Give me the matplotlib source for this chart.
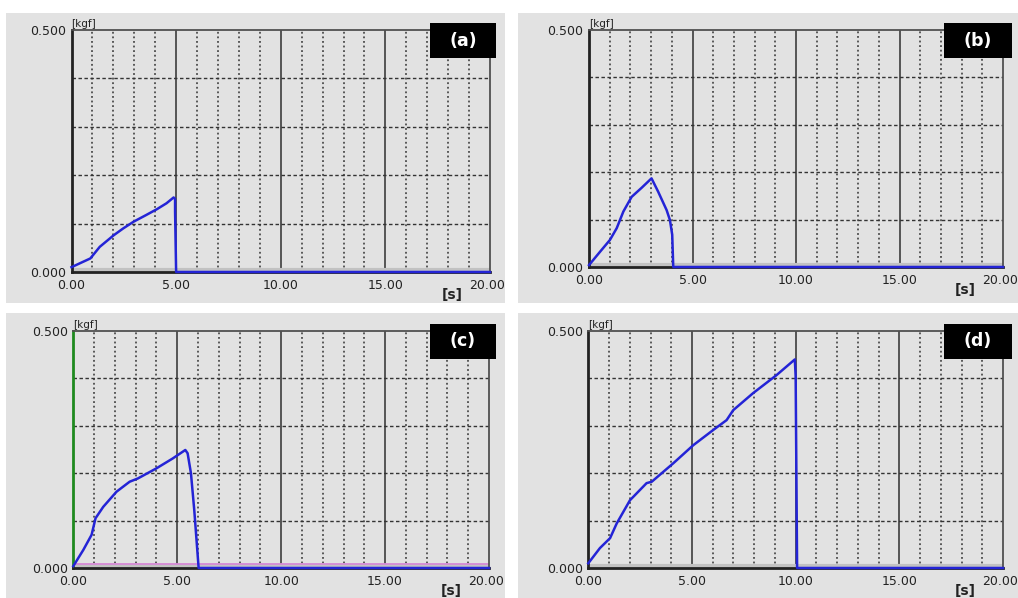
import matplotlib
matplotlib.use("Agg")
import matplotlib.pyplot as plt
from matplotlib.patches import Rectangle
from matplotlib.transforms import ScaledTranslation

W, H = 1018, 598

# ---------------- data ----------------
t_a = [0.0, 0.9, 1.35, 2.02, 2.47, 2.97, 3.58, 4.09, 4.54, 4.88, 4.95, 4.95, 5.0, 20.0]
f_a = [0.010, 0.028, 0.052, 0.076, 0.090, 0.104, 0.118, 0.130, 0.142, 0.154, 0.151, 0.125, 0.0, 0.0]

t_b = [0.0, 0.53, 1.01, 1.34, 1.66, 2.06, 2.54, 3.02, 3.34, 3.75, 3.91, 4.02, 4.07, 20.0]
f_b = [0.004, 0.032, 0.057, 0.082, 0.117, 0.148, 0.167, 0.187, 0.159, 0.120, 0.099, 0.068, 0.0, 0.0]

t_c = [0.0, 0.48, 0.88, 1.07, 1.44, 2.08, 2.71, 3.11, 3.99, 4.78, 5.39, 5.50, 5.66, 5.82, 6.03, 20.0]
f_c = [0.004, 0.038, 0.070, 0.105, 0.129, 0.161, 0.182, 0.189, 0.210, 0.231, 0.249, 0.242, 0.200, 0.122, 0.0, 0.0]

t_d = [0.0, 0.56, 1.05, 1.37, 2.01, 2.81, 3.06, 4.10, 5.06, 6.02, 6.67, 6.99, 7.95, 9.08, 9.96, 10.0, 10.07, 20.0]
f_d = [0.010, 0.042, 0.063, 0.094, 0.143, 0.179, 0.182, 0.221, 0.259, 0.291, 0.312, 0.333, 0.369, 0.407, 0.440, 0.405, 0.0, 0.0]

x_ticks = [0, 5, 10, 15, 20]
x_labels = ["0.00", "5.00", "10.00", "15.00", "20.00"]
y_ticks = [0.0, 0.5]
y_labels = ["0.000", "0.500"]
minor_x = [i for i in range(1, 20) if i % 5 != 0]
major_x = [5, 10, 15]
grid_y = [0.1, 0.2, 0.3, 0.4]
panel_names = ["(a)", "(b)", "(c)", "(d)"]

# ---------------- layout (pixels) ----------------
BG = "#e2e2e2"
BLUE = "#2424d6"

fig = plt.figure(figsize=(W / 100, H / 100), dpi=100)
fig.patch.set_facecolor("white")


def fr(l, t, r, b):
    return [l / W, 1 - b / H, (r - l) / W, (b - t) / H]


panels_bg = [(6, 13, 505, 303), (518, 13, 1018, 303), (6, 313, 505, 598), (518, 313, 1018, 598)]
axes_px = [(71.5, 30, 490, 272), (589, 30, 1003, 267), (73.3, 331, 489, 568), (588.3, 331, 1003, 568)]
boxes_px = [(430, 23, 496, 58), (944, 23, 1012, 58), (430, 324, 496, 359), (944, 324, 1012, 359)]
series = [(t_a, f_a), (t_b, f_b), (t_c, f_c), (t_d, f_d)]

for (l, t, r, b) in panels_bg:
    fig.add_artist(Rectangle((l / W, 1 - b / H), (r - l) / W, (b - t) / H,
                             transform=fig.transFigure, facecolor=BG, edgecolor="none", zorder=-5))

for i, ((l, t, r, b), (tt, ff)) in enumerate(zip(axes_px, series)):
    ax = fig.add_axes(fr(l, t, r, b))
    ax.set_facecolor(BG)
    ax.set_xlim(0, 20)
    ax.set_ylim(0, 0.5)

    # grid
    ax.vlines(minor_x, 0, 0.5, colors="#333333", linestyles=(0, (1.2, 1.8)), linewidth=1.1, zorder=1)
    ax.vlines(major_x, 0, 0.5, colors="#555555", linestyles="solid", linewidth=1.4, zorder=1)
    ax.hlines(grid_y, 0, 20, colors="#333333", linestyles=(0, (2.5, 1.8)), linewidth=1.0, zorder=1)

    # baseline bands
    ax.hlines([0.005], 0, 20, colors="#c2c2c2", linewidth=3, zorder=2)
    if i == 2:
        ax.hlines([0.009], 0, 20, colors="#d68ad6", linewidth=1.3, zorder=2)

    ax.plot(tt, ff, color=BLUE, linewidth=1.8, zorder=5, clip_on=False, solid_joinstyle="round")

    for side in ["top", "right"]:
        ax.spines[side].set_color("#505050")
        ax.spines[side].set_linewidth(1.3)
    for side in ["left", "bottom"]:
        ax.spines[side].set_color("#222222")
        ax.spines[side].set_linewidth(2.0)
    if i == 2:
        ax.spines["left"].set_color("#1f8a1f")
    ax.spines["bottom"].set_zorder(4)

    ax.set_xticks(x_ticks)
    ax.set_xticklabels(x_labels)
    ax.set_yticks(y_ticks)
    ax.set_yticklabels(y_labels)
    ax.tick_params(axis="both", length=0, labelsize=9, colors="#222222")
    ax.tick_params(axis="x", pad=5)
    ax.tick_params(axis="y", pad=4)

    # nudge the last x label slightly left so it stays inside the panel
    last = ax.get_xticklabels()[-1]
    last.set_transform(last.get_transform() + ScaledTranslation(-3 / 100, 0, fig.dpi_scale_trans))

    ax.text(0.0, 1.005, "[kgf]", transform=ax.transAxes, ha="left", va="bottom",
            fontsize=7.5, color="#222222")
    ax.text(18.2, -0.095, "[s]", transform=ax.get_xaxis_transform(), ha="center", va="center",
            fontsize=10, fontweight="bold", color="#222222")

for (l, t, r, b), name in zip(boxes_px, panel_names):
    fig.add_artist(Rectangle((l / W, 1 - b / H), (r - l) / W, (b - t) / H,
                             transform=fig.transFigure, facecolor="black", edgecolor="none", zorder=10))
    fig.text((l + r) / 2 / W, 1 - (t + b) / 2 / H, name, ha="center", va="center",
             color="white", fontsize=12.5, fontweight="bold", zorder=11)

fig.savefig("out.png", dpi=100, facecolor="white")
